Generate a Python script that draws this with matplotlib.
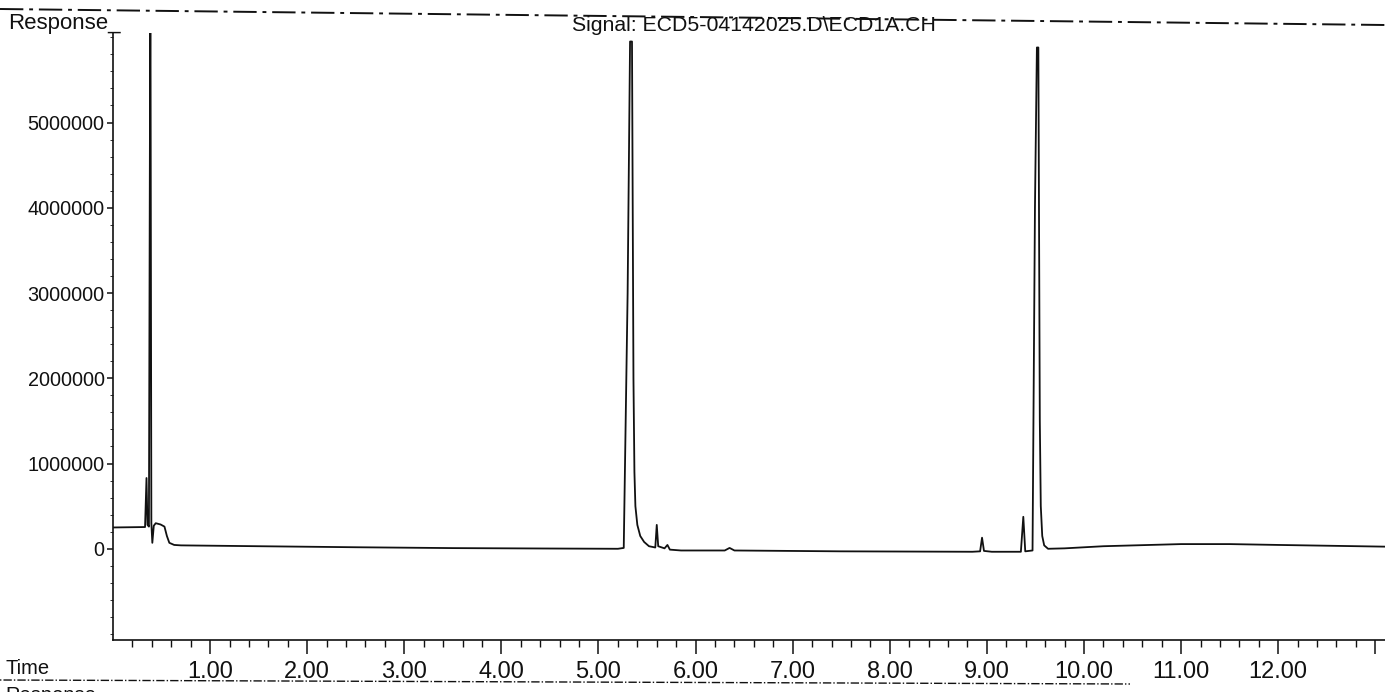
import numpy as np
import matplotlib
matplotlib.use("Agg")
import matplotlib.pyplot as plt
from matplotlib.lines import Line2D

plt.rcParams['font.family'] = ['Liberation Sans', 'DejaVu Sans']

tempo = [0.00, 0.33, 0.345, 0.355, 0.37, 0.385, 0.395, 0.405, 0.42, 0.44,
         0.49, 0.53, 0.555, 0.58, 0.63, 0.70, 1.50, 2.50, 3.50, 4.50,
         5.20, 5.26, 5.30, 5.325, 5.345, 5.36, 5.37, 5.38, 5.40, 5.43,
         5.47, 5.52, 5.585, 5.60, 5.615, 5.68, 5.71, 5.735, 5.85, 6.30,
         6.35, 6.40, 7.50, 8.85, 8.93, 8.95, 8.97, 9.05, 9.35, 9.375,
         9.395, 9.47, 9.495, 9.515, 9.53, 9.545, 9.555, 9.57, 9.59, 9.63,
         9.80, 10.20, 11.00, 11.50, 12.00, 13.10]
risposta = [250000, 255000, 830000, 280000, 260000, 7000000, 300000, 70000, 270000, 300000,
            285000, 260000, 150000, 70000, 45000, 40000, 30000, 18000, 8000, 3000,
            0, 10000, 3000000, 5950000, 5950000, 2000000, 900000, 500000, 280000, 150000,
            80000, 30000, 15000, 280000, 30000, 5000, 45000, -10000, -20000, -20000,
            10000, -20000, -30000, -35000, -30000, 130000, -25000, -35000, -35000, 375000,
            -30000, -20000, 4000000, 5880000, 5880000, 1500000, 500000, 150000, 40000, 0,
            5000, 30000, 55000, 55000, 45000, 25000]

x_major = [1, 2, 3, 4, 5, 6, 7, 8, 9, 10, 11, 12, 13]
x_labels = ["1.00", "2.00", "3.00", "4.00", "5.00", "6.00", "7.00",
            "8.00", "9.00", "10.00", "11.00", "12.00", ""]
y_major = [0, 1000000, 2000000, 3000000, 4000000, 5000000]
y_labels = ["0", "1000000", "2000000", "3000000", "4000000", "5000000"]

W, H = 1385, 692
fig = plt.figure(figsize=(W / 100, H / 100), dpi=100)
ax = fig.add_axes([113 / W, 1 - 640 / H, 1 - 113 / W, 607 / H])

ink = "#111111"
ax.plot(tempo, risposta, color=ink, lw=1.3)

ax.set_xlim(0, 13.1)
ax.set_ylim(-1070000, 6050000)

ax.spines["top"].set_visible(False)
ax.spines["right"].set_visible(False)
for s in ("left", "bottom"):
    ax.spines[s].set_linewidth(1.2)
    ax.spines[s].set_color(ink)

ax.set_xticks(x_major)
ax.set_xticklabels(x_labels)
ax.set_xticks(np.arange(0.2, 13.1, 0.2), minor=True)
ax.set_yticks(y_major)
ax.set_yticklabels(y_labels)
ax.set_yticks(np.arange(-1000000, 6000001, 200000), minor=True)

ax.tick_params(axis="x", which="major", direction="out", length=10, width=1.1,
               pad=5, labelsize=17, colors=ink)
ax.tick_params(axis="x", which="minor", direction="out", length=5, width=1.0, colors=ink)
ax.tick_params(axis="y", which="major", direction="out", length=4, width=1.1,
               pad=2, labelsize=14.3, colors=ink)
ax.tick_params(axis="y", which="minor", direction="out", length=2, width=0.6, colors=ink)

# intestazione e didascalie
fig.text(8 / W, 1 - 29 / H, "Response_", fontsize=16, color=ink, va="baseline")
fig.text(754 / W, 1 - 31 / H, "Signal: ECD5-04142025.D\\ECD1A.CH", fontsize=15.3,
         color=ink, ha="center", va="baseline")
fig.text(5 / W, 1 - 674 / H, "Time", fontsize=14.5, color=ink, va="baseline")
fig.text(5 / W, 1 - 701 / H, "Response", fontsize=14.5, color=ink, va="baseline")

# linee tratteggiate di separazione
fig.add_artist(Line2D([0, 1], [1 - 9 / H, 1 - 25 / H], transform=fig.transFigure,
                      color=ink, lw=1.4, linestyle=(0, (12, 3, 2, 3))))
fig.add_artist(Line2D([0, 1130 / W], [1 - 680 / H, 1 - 684 / H], transform=fig.transFigure,
                      color=ink, lw=1.0, linestyle=(0, (1, 1.5, 6, 1.5))))

fig.savefig("out.png", dpi=100)
